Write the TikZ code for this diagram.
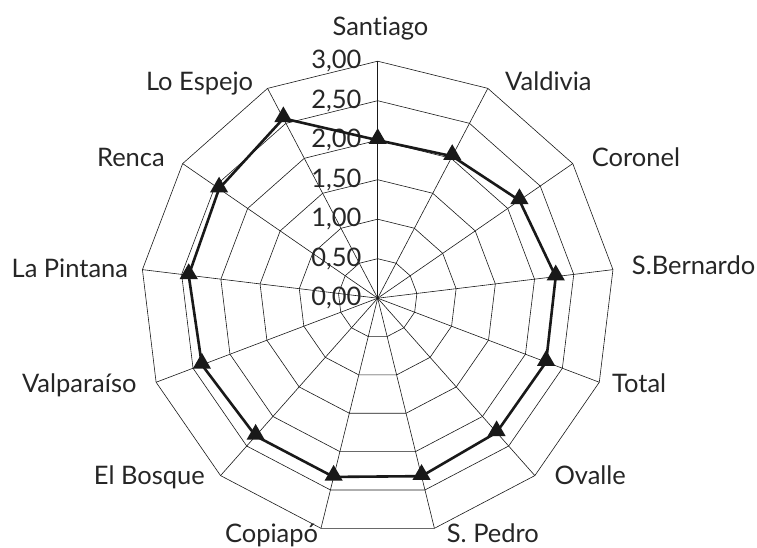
\documentclass[tikz,border=0pt]{standalone}
\usepackage{fontspec}
\setmainfont{Lato}[Ligatures={NoCommon}]
\usetikzlibrary{shapes.geometric}
\begin{document}
\begin{tikzpicture}[x=1pt,y=1pt,
  font=\fontsize{25.5}{30}\selectfont,
  grid/.style={line width=0.6pt, draw=black!90},
  series/.style={line width=2.6pt, draw=black!90, line join=round},
  marker/.style={regular polygon, regular polygon sides=3, fill=black!90, inner sep=0pt, minimum size=21pt},
  cat/.style={inner sep=0pt, text=black!85},
  tick/.style={inner sep=0pt, anchor=base east, text=black!85}]
\useasboundingbox (-377.7,-248.8) rectangle (379.3,298.2);
\def\R{237}
\def\st{39.5}
\coordinate (c) at (0,0);
% rings
\foreach \k in {1,...,6}{
  \draw[grid] ({90}:{\k*\st}) \foreach \i in {1,...,12}{ -- ({90-\i*360/13}:{\k*\st})} -- cycle;
}
% spokes
\foreach \i in {0,...,12}{
  \coordinate (o\i) at ({90-\i*360/13}:\R);
  \draw[grid] (c) -- (o\i);
}
% tick labels
\node[tick] (t0) at (-16,{0*\st-7.5}) {0,00};
\node[tick] (t1) at (-16,{1*\st-7.5}) {0,50};
\node[tick] (t2) at (-16,{2*\st-7.5}) {1,00};
\node[tick] (t3) at (-16,{3*\st-7.5}) {1,50};
\node[tick] (t4) at (-16,{4*\st-7.5}) {2,00};
\node[tick] (t5) at (-16,{5*\st-7.5}) {2,50};
\node[tick] (t6) at (-16,{6*\st-7.5}) {3,00};
% data points
\foreach \v [count=\i from 0] in {2.00,2.03,2.18,2.27,2.28,2.27,2.32,2.33,2.33,2.38,2.41,2.44,2.57}{
  \coordinate (p\i) at ({90-\i*360/13}:{\v*2*\st});
}
\draw[series] (p0) -- (p1) -- (p2) -- (p3) -- (p4) -- (p5) -- (p6) -- (p7) -- (p8) -- (p9) -- (p10) -- (p11) -- (p12) -- cycle;
\foreach \i in {0,...,12}{
  \node[marker] (m\i) at ([yshift=1.5pt]p\i) {};
}
% category labels
\node[cat, anchor=base] (l0) at (2.8,262.8) {Santiago};
\node[cat, anchor=base west] (l1) at (127.3,207.8) {Valdivia};
\node[cat, anchor=base west] (l2) at (214,131.8) {Coronel};
\node[cat, anchor=base west] (l3) at (254,23.8) {S.Bernardo};
\node[cat, anchor=base west] (l4) at (234.3,-93.9) {Total};
\node[cat, anchor=base west] (l5) at (176.6,-186.2) {Ovalle};
\node[cat, anchor=base west] (l6) at (69,-243.9) {S. Pedro};
\node[cat, anchor=base east] (l7) at (-59.4,-243.9) {Copiapó};
\node[cat, anchor=base east] (l8) at (-172.7,-186.5) {El Bosque};
\node[cat, anchor=base east] (l9) at (-241,-93.9) {Valparaíso};
\node[cat, anchor=base east] (l10) at (-249.4,21.1) {La Pintana};
\node[cat, anchor=base east] (l11) at (-212.7,131.8) {Renca};
\node[cat, anchor=base east] (l12) at (-124.4,207.8) {Lo Espejo};
\end{tikzpicture}
\end{document}
